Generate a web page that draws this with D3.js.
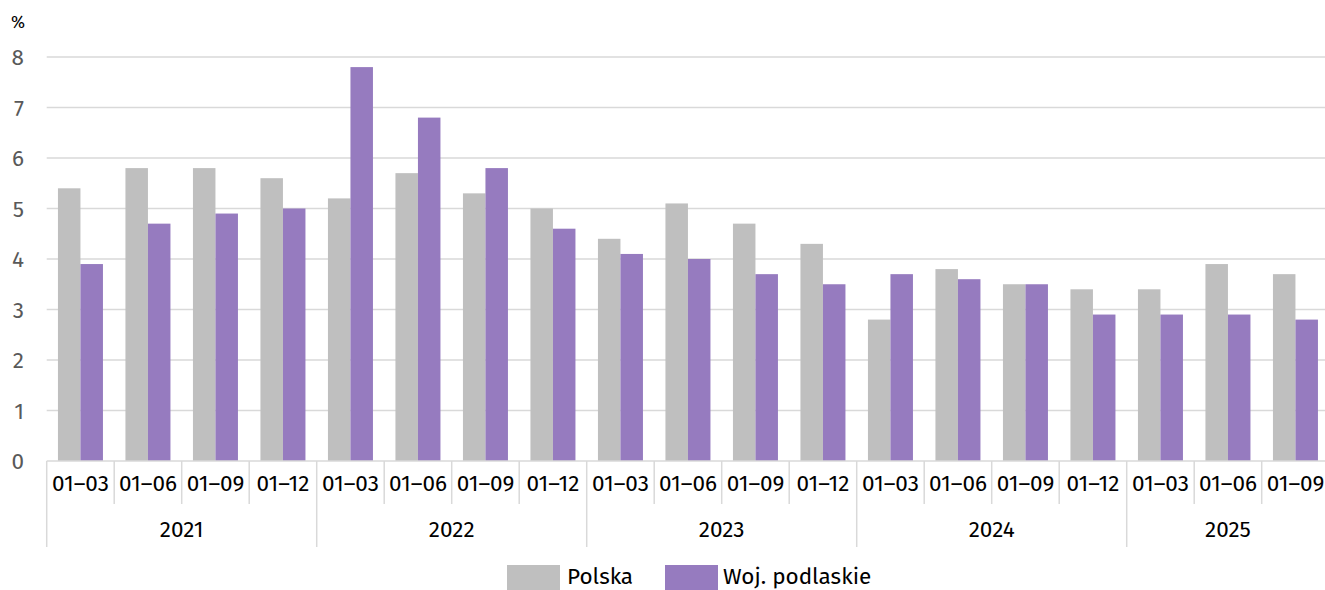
<!DOCTYPE html>
<html><head><meta charset="utf-8">
<script src="https://cdn.jsdelivr.net/npm/d3@7/dist/d3.min.js"></script>
<style>body{margin:0;background:#fff;}svg{display:block;font-family:"Fira Sans","Noto Sans",sans-serif;}</style>
</head><body><svg id="c" width="1325" height="590"></svg>
<script>
const periods = ["01–03","01–06","01–09","01–12","01–03","01–06","01–09","01–12","01–03","01–06","01–09","01–12","01–03","01–06","01–09","01–12","01–03","01–06","01–09"];
const years = ["2021","2021","2021","2021","2022","2022","2022","2022","2023","2023","2023","2023","2024","2024","2024","2024","2025","2025","2025"];
const polska = [5.4,5.8,5.8,5.6,5.2,5.7,5.3,5.0,4.4,5.1,4.7,4.3,2.8,3.8,3.5,3.4,3.4,3.9,3.7];
const podlaskie = [3.9,4.7,4.9,5.0,7.8,6.8,5.8,4.6,4.1,4.0,3.7,3.5,3.7,3.6,3.5,2.9,2.9,2.9,2.8];
const seriesNames = ["Polska","Woj. podlaskie"];
const colors = ["#bfbfbf","#967bbf"];
const yTicks = [0,1,2,3,4,5,6,7,8];

const svg = d3.select("#c");
const left = 46.7, step = 67.5, n = periods.length;
const x = d3.scaleBand().domain(d3.range(n)).range([left, left + step*n]).padding(0);
const y = d3.scaleLinear().domain([0,8]).range([461,57]);
const xi = d3.scaleBand().domain([0,1]).range([11.25, 56.25]);
const FS = 22.5;

// gridlines
svg.append("g").selectAll("line").data(yTicks.filter(d=>d>0)).join("line")
  .attr("x1", left).attr("x2", left + step*n)
  .attr("y1", d=>y(d)).attr("y2", d=>y(d))
  .attr("stroke","#d9d9d9").attr("stroke-width",1.5);

// y labels
svg.append("g").selectAll("text").data(yTicks).join("text")
  .attr("x", 24).attr("y", d=>y(d)+8).attr("text-anchor","end")
  .attr("font-size",FS).attr("fill","#595959").text(d=>d);
svg.append("text").attr("x",11).attr("y",28).attr("font-size",17).attr("fill","#000").text("%");

// bars
const gs = svg.append("g").selectAll("g").data(d3.range(n)).join("g")
  .attr("transform", i=>`translate(${x(i)},0)`);
gs.append("rect").attr("x", xi(0)).attr("width", xi.bandwidth())
  .attr("y", i=>y(polska[i])).attr("height", i=>y(0)-y(polska[i])).attr("fill", colors[0]);
gs.append("rect").attr("x", xi(1)).attr("width", xi.bandwidth())
  .attr("y", i=>y(podlaskie[i])).attr("height", i=>y(0)-y(podlaskie[i])).attr("fill", colors[1]);

// axis line
svg.append("line").attr("x1",left).attr("x2",left+step*n).attr("y1",y(0)).attr("y2",y(0))
  .attr("stroke","#d9d9d9").attr("stroke-width",1.5);

// period separators
svg.append("g").selectAll("line").data(d3.range(n+1)).join("line")
  .attr("x1", i=>left+i*step).attr("x2", i=>left+i*step)
  .attr("y1", y(0)).attr("y2", i=>(i===0 || i===n || years[i]!==years[i-1]) ? 547 : 504)
  .attr("stroke","#d9d9d9").attr("stroke-width",1.5);

// period labels
svg.append("g").selectAll("text").data(d3.range(n)).join("text")
  .attr("x", i=>x(i)+step/2).attr("y", 491).attr("text-anchor","middle")
  .attr("font-size",FS).attr("fill","#000").text(i=>periods[i]);

// year labels
const yearGroups = d3.groups(d3.range(n), i=>years[i]);
svg.append("g").selectAll("text").data(yearGroups).join("text")
  .attr("x", d=>left + (d3.min(d[1]) + d3.max(d[1]) + 1)/2*step)
  .attr("y", 537).attr("text-anchor","middle").attr("font-size",FS).attr("fill","#000")
  .text(d=>d[0]);

// legend
const legend = [{x:507, tx:567}, {x:665, tx:723}];
legend.forEach((l,k)=>{
  svg.append("rect").attr("x",l.x).attr("y",565).attr("width",53).attr("height",25).attr("fill",colors[k]);
  svg.append("text").attr("x",l.tx).attr("y",584).attr("font-size",FS).attr("fill","#000").text(seriesNames[k]);
});
</script></body></html>
